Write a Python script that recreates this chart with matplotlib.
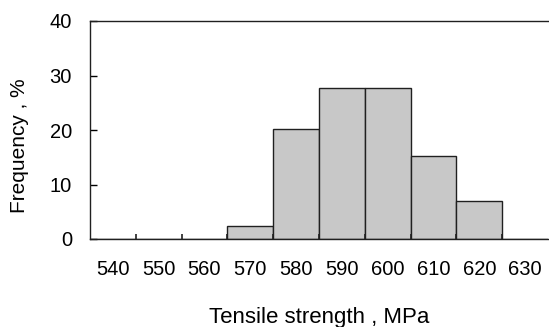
import numpy as np
import matplotlib
matplotlib.use("Agg")
import matplotlib.pyplot as plt

plt.rcParams["font.family"] = ["Liberation Sans", "DejaVu Sans"]

# Histogram of tensile strength
categories = ["540", "550", "560", "570", "580", "590", "600", "610", "620", "630"]
frequency = [0, 0, 0, 2.4, 20.1, 27.7, 27.7, 15.2, 6.9, 0]
y_ticks = [0, 10, 20, 30, 40]

W, H = 549, 327
fig = plt.figure(figsize=(W / 100, H / 100), dpi=100)
ax = fig.add_axes([90 / W, (H - 239) / H, (548 - 90) / W, (239 - 21) / H])

x = np.arange(len(categories))
ax.bar(x, frequency, width=1.0, color="#c8c8c8", edgecolor="#202020", linewidth=1.0)

ax.set_xlim(-0.5, len(categories) - 0.5)
ax.set_ylim(0, 40)

# category labels at centres, tick marks at inner boundaries
ax.set_xticks(x)
ax.set_xticklabels(categories, fontsize=14.5)
ax.tick_params(axis="x", length=0, pad=15)
ax.set_xticks(np.arange(1, len(categories)) - 0.5, minor=True)
ax.tick_params(axis="x", which="minor", direction="in", length=3.5, width=1.2, color="#202020")

ax.set_yticks(y_ticks)
ax.tick_params(axis="y", direction="in", length=5, width=1.0, labelsize=14.5, pad=13)

ax.spines["right"].set_visible(False)
for side in ["left", "top", "bottom"]:
    ax.spines[side].set_color("#202020")
    ax.spines[side].set_linewidth(1.0)

ax.set_xlabel("Tensile strength , MPa", fontsize=16)
ax.xaxis.set_label_coords(0.5, -0.358)
ax.xaxis.label.set_va("center")
ax.set_ylabel("Frequency , %", fontsize=15)
ax.yaxis.set_label_coords(-0.153, 0.427)
ax.yaxis.label.set_va("center")

fig.savefig("out.png", dpi=100)
